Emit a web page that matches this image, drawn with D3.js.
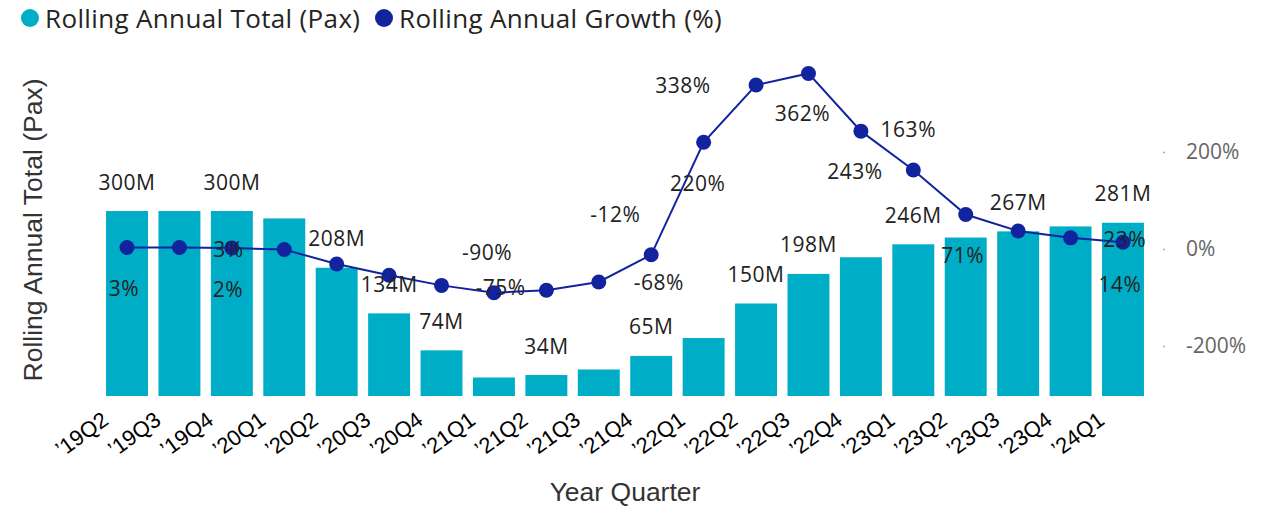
<!DOCTYPE html>
<html>
<head>
<meta charset="utf-8">
<script src="https://cdn.jsdelivr.net/npm/d3@7"></script>
<style>
  body { margin: 0; background: #fff; }
  svg { font-family: "Segoe UI", "Open Sans", sans-serif; }
</style>
</head>
<body>
<svg id="chart"></svg>
<script>
const quarters = ["’19Q2", "’19Q3", "’19Q4", "’20Q1", "’20Q2", "’20Q3", "’20Q4", "’21Q1", "’21Q2", "’21Q3",
                  "’21Q4", "’22Q1", "’22Q2", "’22Q3", "’22Q4", "’23Q1", "’23Q2", "’23Q3", "’23Q4", "’24Q1"];
const paxMillions = [300, 300, 300, 288, 208, 134, 74, 30, 34, 43, 65, 94, 150, 198, 225, 246, 257, 267, 275, 281];
const growthPct = [3, 3, 2, -1, -31, -54, -75, -90, -85, -68, -12, 220, 338, 362, 243, 163, 71, 37, 23, 14];
const growthTicks = [-200, 0, 200];

// only these data labels survive Power BI's overlap check
const paxLabelQuarters = ["’19Q2", "’19Q4", "’20Q2", "’20Q3", "’20Q4", "’21Q2", "’21Q4", "’22Q2", "’22Q3", "’23Q1", "’23Q3", "’24Q1"];

// where each visible growth label sits relative to its point [dx, dy]
const growthLabelOffsets = {
  "’19Q2": [-3, 41], "’19Q3": [49, 2], "’19Q4": [-4, 41], "’20Q4": [59, 2],
  "’21Q1": [-7, -40], "’21Q3": [60, 1], "’21Q4": [-36, -40], "’22Q1": [-6, 41],
  "’22Q2": [-73, 0], "’22Q3": [-6, 40], "’22Q4": [-6, 40], "’23Q1": [-5, -40],
  "’23Q2": [-3, 41], "’23Q4": [54, 2], "’24Q1": [-3, 42]
};

const width = 1263;
const height = 509;
const barColor = "#00adc6";
const lineColor = "#12239e";
const arial = "'Liberation Sans', Arial, sans-serif";

const svg = d3.select("#chart")
    .attr("width", width)
    .attr("height", height);

const x = d3.scaleBand()
    .domain(quarters)
    .range([100.8, 1149.2])
    .paddingInner(0.2)
    .paddingOuter(0.1);

const y = d3.scaleLinear()
    .domain([0, 560])
    .range([396, 50.7]);

const y2 = d3.scaleLinear()
    .domain([-300, 400])
    .range([394.5, 55]);

const cx = q => x(q) + x.bandwidth() / 2;

// legend
const legend = svg.append("g").attr("class", "legend");
[["Rolling Annual Total (Pax)", barColor, 30], ["Rolling Annual Growth (%)", lineColor, 384]].forEach(([name, color, lx]) => {
  legend.append("circle").attr("cx", lx).attr("cy", 18).attr("r", 9).attr("fill", color);
  legend.append("text")
      .attr("x", lx + 15).attr("y", 28)
      .attr("font-size", 26).attr("letter-spacing", 0.35)
      .attr("fill", "#252423")
      .text(name);
});

// bars
svg.append("g")
    .selectAll("rect")
    .data(quarters)
    .join("rect")
    .attr("x", d => x(d))
    .attr("y", (d, i) => y(paxMillions[i]))
    .attr("width", x.bandwidth())
    .attr("height", (d, i) => y(0) - y(paxMillions[i]))
    .attr("fill", barColor);

// x-axis
const xAxis = svg.append("g")
    .attr("transform", `translate(0,${y(0)})`)
    .call(d3.axisBottom(x).tickSize(0));
xAxis.select(".domain").remove();
xAxis.selectAll("text")
    .attr("y", 0).attr("dy", 0)
    .attr("text-anchor", "end")
    .attr("transform", "translate(-17,27) rotate(-36)")
    .style("font-family", arial)
    .style("font-size", "22px")
    .attr("fill", "#000");

// right axis for growth
const yAxis2 = svg.append("g")
    .attr("transform", "translate(1164,0)")
    .call(d3.axisRight(y2).tickValues(growthTicks).tickFormat(d => d + "%").tickSize(0).tickPadding(22));
yAxis2.select(".domain").remove();
yAxis2.attr("font-family", null).attr("font-size", null);
yAxis2.selectAll(".tick text")
    .style("font-size", "21px")
    .attr("fill", "#666");
yAxis2.selectAll(".tick").append("circle").attr("r", 1).attr("fill", "#aaa");

// axis titles
svg.append("text")
    .attr("transform", "translate(42,230) rotate(-90)")
    .attr("text-anchor", "middle")
    .style("font-family", arial)
    .style("font-size", "26.5px")
    .attr("fill", "#333")
    .text("Rolling Annual Total (Pax)");

svg.append("text")
    .attr("x", 625).attr("y", 501)
    .attr("text-anchor", "middle")
    .style("font-family", arial)
    .style("font-size", "26.5px")
    .attr("fill", "#333")
    .text("Year Quarter");

// growth line
const line = d3.line()
    .x(d => cx(d))
    .y((d, i) => y2(growthPct[i]));

svg.append("path")
    .datum(quarters)
    .attr("fill", "none")
    .attr("stroke", lineColor)
    .attr("stroke-width", 2)
    .attr("d", line);

svg.append("g")
    .selectAll("circle")
    .data(quarters)
    .join("circle")
    .attr("cx", d => cx(d))
    .attr("cy", (d, i) => y2(growthPct[i]))
    .attr("r", 7.5)
    .attr("fill", lineColor);

// bar labels
svg.append("g")
    .selectAll("text")
    .data(paxLabelQuarters)
    .join("text")
    .attr("x", d => cx(d))
    .attr("y", d => y(paxMillions[quarters.indexOf(d)]) - 21.5)
    .attr("text-anchor", "middle")
    .attr("font-size", 21)
    .attr("letter-spacing", 0.5)
    .attr("fill", "#222")
    .text(d => paxMillions[quarters.indexOf(d)] + "M");

// growth labels
svg.append("g")
    .selectAll("text")
    .data(Object.keys(growthLabelOffsets))
    .join("text")
    .attr("x", d => cx(d) + growthLabelOffsets[d][0])
    .attr("y", d => y2(growthPct[quarters.indexOf(d)]) + growthLabelOffsets[d][1] + 7.5)
    .attr("text-anchor", "middle")
    .attr("font-size", 21)
    .attr("letter-spacing", 0.5)
    .attr("fill", "#222")
    .text(d => growthPct[quarters.indexOf(d)] + "%");
</script>
</body>
</html>
